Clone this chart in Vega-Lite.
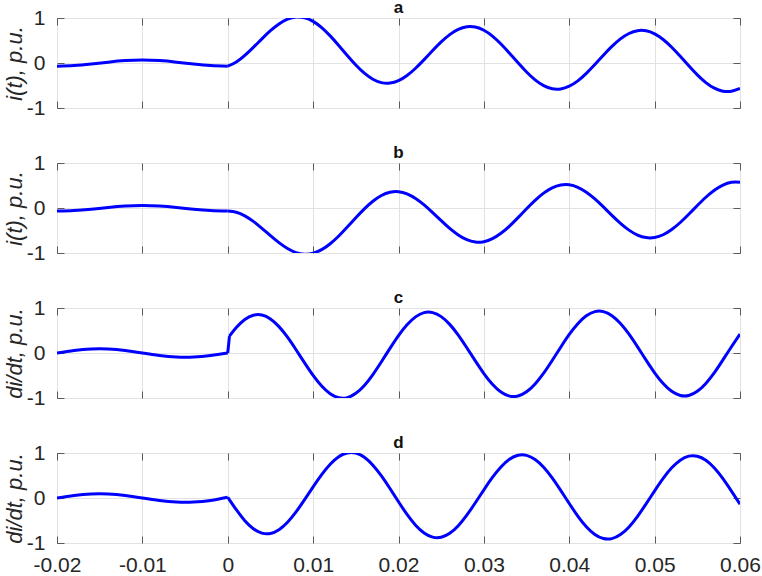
{
  "$schema": "https://vega.github.io/schema/vega-lite/v6.json",
  "padding": {"left": 2, "top": -2, "right": 0, "bottom": 0},
  "background": "white",
  "datasets": {
    "a": [
      {"t": -0.02, "v": -0.070, "s": "p"}, {"t": -0.018, "v": -0.057, "s": "p"}, {"t": -0.016, "v": -0.023, "s": "p"}, {"t": -0.014, "v": 0.019, "s": "p"}, {"t": -0.012, "v": 0.053, "s": "p"}, {"t": -0.01, "v": 0.066, "s": "p"}, {"t": -0.008, "v": 0.053, "s": "p"}, {"t": -0.006, "v": 0.019, "s": "p"}, {"t": -0.004, "v": -0.023, "s": "p"}, {"t": -0.002, "v": -0.057, "s": "p"}, {"t": 0, "v": -0.070, "s": "p"},
      {"t": 0, "v": -0.070, "s": "q"}, {"t": 0.001, "v": 0.023, "s": "q"}, {"t": 0.002, "v": 0.170, "s": "q"}, {"t": 0.003, "v": 0.348, "s": "q"}, {"t": 0.004, "v": 0.537, "s": "q"}, {"t": 0.005, "v": 0.717, "s": "q"}, {"t": 0.006, "v": 0.868, "s": "q"}, {"t": 0.007, "v": 0.973, "s": "q"}, {"t": 0.008, "v": 1.021, "s": "q"}, {"t": 0.009, "v": 1.005, "s": "q"},
      {"t": 0.010, "v": 0.925, "s": "q"}, {"t": 0.011, "v": 0.787, "s": "q"}, {"t": 0.012, "v": 0.603, "s": "q"}, {"t": 0.013, "v": 0.390, "s": "q"}, {"t": 0.014, "v": 0.167, "s": "q"}, {"t": 0.015, "v": -0.044, "s": "q"}, {"t": 0.016, "v": -0.226, "s": "q"}, {"t": 0.017, "v": -0.360, "s": "q"}, {"t": 0.018, "v": -0.436, "s": "q"}, {"t": 0.019, "v": -0.446, "s": "q"},
      {"t": 0.020, "v": -0.391, "s": "q"}, {"t": 0.021, "v": -0.277, "s": "q"}, {"t": 0.022, "v": -0.116, "s": "q"}, {"t": 0.023, "v": 0.075, "s": "q"}, {"t": 0.024, "v": 0.276, "s": "q"}, {"t": 0.025, "v": 0.468, "s": "q"}, {"t": 0.026, "v": 0.630, "s": "q"}, {"t": 0.027, "v": 0.746, "s": "q"}, {"t": 0.028, "v": 0.805, "s": "q"}, {"t": 0.029, "v": 0.798, "s": "q"},
      {"t": 0.030, "v": 0.727, "s": "q"}, {"t": 0.031, "v": 0.598, "s": "q"}, {"t": 0.032, "v": 0.422, "s": "q"}, {"t": 0.033, "v": 0.218, "s": "q"}, {"t": 0.034, "v": 0.003, "s": "q"}, {"t": 0.035, "v": -0.201, "s": "q"}, {"t": 0.036, "v": -0.376, "s": "q"}, {"t": 0.037, "v": -0.503, "s": "q"}, {"t": 0.038, "v": -0.572, "s": "q"}, {"t": 0.039, "v": -0.576, "s": "q"},
      {"t": 0.040, "v": -0.515, "s": "q"}, {"t": 0.041, "v": -0.396, "s": "q"}, {"t": 0.042, "v": -0.229, "s": "q"}, {"t": 0.043, "v": -0.034, "s": "q"}, {"t": 0.044, "v": 0.173, "s": "q"}, {"t": 0.045, "v": 0.369, "s": "q"}, {"t": 0.046, "v": 0.536, "s": "q"}, {"t": 0.047, "v": 0.656, "s": "q"}, {"t": 0.048, "v": 0.719, "s": "q"}, {"t": 0.049, "v": 0.716, "s": "q"},
      {"t": 0.050, "v": 0.649, "s": "q"}, {"t": 0.051, "v": 0.523, "s": "q"}, {"t": 0.052, "v": 0.351, "s": "q"}, {"t": 0.053, "v": 0.150, "s": "q"}, {"t": 0.054, "v": -0.062, "s": "q"}, {"t": 0.055, "v": -0.263, "s": "q"}, {"t": 0.056, "v": -0.435, "s": "q"}, {"t": 0.057, "v": -0.560, "s": "q"}, {"t": 0.058, "v": -0.626, "s": "q"}, {"t": 0.059, "v": -0.628, "s": "q"}, {"t": 0.060, "v": -0.565, "s": "q"}
    ],
    "b": [
      {"t": -0.02, "v": -0.067, "s": "p"}, {"t": -0.018, "v": -0.056, "s": "p"}, {"t": -0.016, "v": -0.026, "s": "p"}, {"t": -0.014, "v": 0.012, "s": "p"}, {"t": -0.012, "v": 0.042, "s": "p"}, {"t": -0.01, "v": 0.053, "s": "p"}, {"t": -0.008, "v": 0.042, "s": "p"}, {"t": -0.006, "v": 0.012, "s": "p"}, {"t": -0.004, "v": -0.026, "s": "p"}, {"t": -0.002, "v": -0.056, "s": "p"}, {"t": 0, "v": -0.067, "s": "p"},
      {"t": 0, "v": -0.067, "s": "q"}, {"t": 0.001, "v": -0.093, "s": "q"}, {"t": 0.002, "v": -0.174, "s": "q"}, {"t": 0.003, "v": -0.298, "s": "q"}, {"t": 0.004, "v": -0.451, "s": "q"}, {"t": 0.005, "v": -0.614, "s": "q"}, {"t": 0.006, "v": -0.770, "s": "q"}, {"t": 0.007, "v": -0.900, "s": "q"}, {"t": 0.008, "v": -0.990, "s": "q"}, {"t": 0.009, "v": -1.026, "s": "q"},
      {"t": 0.010, "v": -1.005, "s": "q"}, {"t": 0.011, "v": -0.926, "s": "q"}, {"t": 0.012, "v": -0.794, "s": "q"}, {"t": 0.013, "v": -0.622, "s": "q"}, {"t": 0.014, "v": -0.423, "s": "q"}, {"t": 0.015, "v": -0.217, "s": "q"}, {"t": 0.016, "v": -0.019, "s": "q"}, {"t": 0.017, "v": 0.150, "s": "q"}, {"t": 0.018, "v": 0.277, "s": "q"}, {"t": 0.019, "v": 0.349, "s": "q"},
      {"t": 0.020, "v": 0.362, "s": "q"}, {"t": 0.021, "v": 0.315, "s": "q"}, {"t": 0.022, "v": 0.213, "s": "q"}, {"t": 0.023, "v": 0.070, "s": "q"}, {"t": 0.024, "v": -0.102, "s": "q"}, {"t": 0.025, "v": -0.282, "s": "q"}, {"t": 0.026, "v": -0.455, "s": "q"}, {"t": 0.027, "v": -0.600, "s": "q"}, {"t": 0.028, "v": -0.705, "s": "q"}, {"t": 0.029, "v": -0.756, "s": "q"},
      {"t": 0.030, "v": -0.748, "s": "q"}, {"t": 0.031, "v": -0.682, "s": "q"}, {"t": 0.032, "v": -0.562, "s": "q"}, {"t": 0.033, "v": -0.402, "s": "q"}, {"t": 0.034, "v": -0.213, "s": "q"}, {"t": 0.035, "v": -0.017, "s": "q"}, {"t": 0.036, "v": 0.170, "s": "q"}, {"t": 0.037, "v": 0.330, "s": "q"}, {"t": 0.038, "v": 0.448, "s": "q"}, {"t": 0.039, "v": 0.511, "s": "q"},
      {"t": 0.040, "v": 0.516, "s": "q"}, {"t": 0.041, "v": 0.461, "s": "q"}, {"t": 0.042, "v": 0.352, "s": "q"}, {"t": 0.043, "v": 0.202, "s": "q"}, {"t": 0.044, "v": 0.024, "s": "q"}, {"t": 0.045, "v": -0.163, "s": "q"}, {"t": 0.046, "v": -0.341, "s": "q"}, {"t": 0.047, "v": -0.492, "s": "q"}, {"t": 0.048, "v": -0.602, "s": "q"}, {"t": 0.049, "v": -0.658, "s": "q"},
      {"t": 0.050, "v": -0.655, "s": "q"}, {"t": 0.051, "v": -0.594, "s": "q"}, {"t": 0.052, "v": -0.478, "s": "q"}, {"t": 0.053, "v": -0.322, "s": "q"}, {"t": 0.054, "v": -0.138, "s": "q"}, {"t": 0.055, "v": 0.054, "s": "q"}, {"t": 0.056, "v": 0.239, "s": "q"}, {"t": 0.057, "v": 0.394, "s": "q"}, {"t": 0.058, "v": 0.509, "s": "q"}, {"t": 0.059, "v": 0.570, "s": "q"}, {"t": 0.060, "v": 0.572, "s": "q"}
    ],
    "c": [
      {"t": -0.02, "v": 0.0, "s": "p"}, {"t": -0.018, "v": 0.056, "s": "p"}, {"t": -0.016, "v": 0.090, "s": "p"}, {"t": -0.014, "v": 0.090, "s": "p"}, {"t": -0.012, "v": 0.056, "s": "p"}, {"t": -0.01, "v": 0.0, "s": "p"}, {"t": -0.008, "v": -0.056, "s": "p"}, {"t": -0.006, "v": -0.090, "s": "p"}, {"t": -0.004, "v": -0.090, "s": "p"}, {"t": -0.002, "v": -0.056, "s": "p"}, {"t": 0, "v": 0.0, "s": "p"},
      {"t": 0, "v": 0.0, "s": "j"}, {"t": 0.0002, "v": 0.374, "s": "j"},
      {"t": 0.0002, "v": 0.374, "s": "q"}, {"t": 0.001, "v": 0.565, "s": "q"}, {"t": 0.002, "v": 0.744, "s": "q"}, {"t": 0.003, "v": 0.840, "s": "q"}, {"t": 0.004, "v": 0.844, "s": "q"}, {"t": 0.005, "v": 0.756, "s": "q"}, {"t": 0.006, "v": 0.586, "s": "q"}, {"t": 0.007, "v": 0.351, "s": "q"}, {"t": 0.008, "v": 0.072, "s": "q"}, {"t": 0.009, "v": -0.218, "s": "q"},
      {"t": 0.010, "v": -0.497, "s": "q"}, {"t": 0.011, "v": -0.733, "s": "q"}, {"t": 0.012, "v": -0.904, "s": "q"}, {"t": 0.013, "v": -0.993, "s": "q"}, {"t": 0.014, "v": -0.991, "s": "q"}, {"t": 0.015, "v": -0.896, "s": "q"}, {"t": 0.016, "v": -0.720, "s": "q"}, {"t": 0.017, "v": -0.478, "s": "q"}, {"t": 0.018, "v": -0.194, "s": "q"}, {"t": 0.019, "v": 0.102, "s": "q"},
      {"t": 0.020, "v": 0.386, "s": "q"}, {"t": 0.021, "v": 0.627, "s": "q"}, {"t": 0.022, "v": 0.803, "s": "q"}, {"t": 0.023, "v": 0.897, "s": "q"}, {"t": 0.024, "v": 0.898, "s": "q"}, {"t": 0.025, "v": 0.808, "s": "q"}, {"t": 0.026, "v": 0.636, "s": "q"}, {"t": 0.027, "v": 0.398, "s": "q"}, {"t": 0.028, "v": 0.117, "s": "q"}, {"t": 0.029, "v": -0.175, "s": "q"},
      {"t": 0.030, "v": -0.456, "s": "q"}, {"t": 0.031, "v": -0.694, "s": "q"}, {"t": 0.032, "v": -0.867, "s": "q"}, {"t": 0.033, "v": -0.958, "s": "q"}, {"t": 0.034, "v": -0.956, "s": "q"}, {"t": 0.035, "v": -0.863, "s": "q"}, {"t": 0.036, "v": -0.688, "s": "q"}, {"t": 0.037, "v": -0.449, "s": "q"}, {"t": 0.038, "v": -0.166, "s": "q"}, {"t": 0.039, "v": 0.129, "s": "q"},
      {"t": 0.040, "v": 0.412, "s": "q"}, {"t": 0.041, "v": 0.652, "s": "q"}, {"t": 0.042, "v": 0.827, "s": "q"}, {"t": 0.043, "v": 0.919, "s": "q"}, {"t": 0.044, "v": 0.920, "s": "q"}, {"t": 0.045, "v": 0.829, "s": "q"}, {"t": 0.046, "v": 0.655, "s": "q"}, {"t": 0.047, "v": 0.417, "s": "q"}, {"t": 0.048, "v": 0.135, "s": "q"}, {"t": 0.049, "v": -0.158, "s": "q"},
      {"t": 0.050, "v": -0.440, "s": "q"}, {"t": 0.051, "v": -0.678, "s": "q"}, {"t": 0.052, "v": -0.852, "s": "q"}, {"t": 0.053, "v": -0.943, "s": "q"}, {"t": 0.054, "v": -0.943, "s": "q"}, {"t": 0.055, "v": -0.851, "s": "q"}, {"t": 0.056, "v": -0.676, "s": "q"}, {"t": 0.057, "v": -0.437, "s": "q"}, {"t": 0.058, "v": -0.154, "s": "q"}, {"t": 0.059, "v": 0.140, "s": "q"}, {"t": 0.060, "v": 0.422, "s": "q"}
    ],
    "d": [
      {"t": -0.02, "v": 0.0, "s": "p"}, {"t": -0.018, "v": 0.056, "s": "p"}, {"t": -0.016, "v": 0.090, "s": "p"}, {"t": -0.014, "v": 0.090, "s": "p"}, {"t": -0.012, "v": 0.056, "s": "p"}, {"t": -0.01, "v": 0.0, "s": "p"}, {"t": -0.008, "v": -0.056, "s": "p"}, {"t": -0.006, "v": -0.090, "s": "p"}, {"t": -0.004, "v": -0.090, "s": "p"}, {"t": -0.002, "v": -0.056, "s": "p"}, {"t": 0, "v": 0.015, "s": "p"},
      {"t": 0, "v": 0.015, "s": "q"}, {"t": 0.001, "v": -0.261, "s": "q"}, {"t": 0.002, "v": -0.505, "s": "q"}, {"t": 0.003, "v": -0.683, "s": "q"}, {"t": 0.004, "v": -0.780, "s": "q"}, {"t": 0.005, "v": -0.787, "s": "q"}, {"t": 0.006, "v": -0.704, "s": "q"}, {"t": 0.007, "v": -0.539, "s": "q"}, {"t": 0.008, "v": -0.309, "s": "q"}, {"t": 0.009, "v": -0.038, "s": "q"},
      {"t": 0.010, "v": 0.247, "s": "q"}, {"t": 0.011, "v": 0.519, "s": "q"}, {"t": 0.012, "v": 0.750, "s": "q"}, {"t": 0.013, "v": 0.917, "s": "q"}, {"t": 0.014, "v": 1.002, "s": "q"}, {"t": 0.015, "v": 0.998, "s": "q"}, {"t": 0.016, "v": 0.904, "s": "q"}, {"t": 0.017, "v": 0.729, "s": "q"}, {"t": 0.018, "v": 0.490, "s": "q"}, {"t": 0.019, "v": 0.210, "s": "q"},
      {"t": 0.020, "v": -0.084, "s": "q"}, {"t": 0.021, "v": -0.364, "s": "q"}, {"t": 0.022, "v": -0.603, "s": "q"}, {"t": 0.023, "v": -0.776, "s": "q"}, {"t": 0.024, "v": -0.869, "s": "q"}, {"t": 0.025, "v": -0.872, "s": "q"}, {"t": 0.026, "v": -0.784, "s": "q"}, {"t": 0.027, "v": -0.615, "s": "q"}, {"t": 0.028, "v": -0.381, "s": "q"}, {"t": 0.029, "v": -0.106, "s": "q"},
      {"t": 0.030, "v": 0.182, "s": "q"}, {"t": 0.031, "v": 0.457, "s": "q"}, {"t": 0.032, "v": 0.691, "s": "q"}, {"t": 0.033, "v": 0.861, "s": "q"}, {"t": 0.034, "v": 0.949, "s": "q"}, {"t": 0.035, "v": 0.948, "s": "q"}, {"t": 0.036, "v": 0.856, "s": "q"}, {"t": 0.037, "v": 0.684, "s": "q"}, {"t": 0.038, "v": 0.447, "s": "q"}, {"t": 0.039, "v": 0.168, "s": "q"},
      {"t": 0.040, "v": -0.123, "s": "q"}, {"t": 0.041, "v": -0.401, "s": "q"}, {"t": 0.042, "v": -0.638, "s": "q"}, {"t": 0.043, "v": -0.810, "s": "q"}, {"t": 0.044, "v": -0.901, "s": "q"}, {"t": 0.045, "v": -0.902, "s": "q"}, {"t": 0.046, "v": -0.813, "s": "q"}, {"t": 0.047, "v": -0.643, "s": "q"}, {"t": 0.048, "v": -0.407, "s": "q"}, {"t": 0.049, "v": -0.131, "s": "q"},
      {"t": 0.050, "v": 0.158, "s": "q"}, {"t": 0.051, "v": 0.435, "s": "q"}, {"t": 0.052, "v": 0.670, "s": "q"}, {"t": 0.053, "v": 0.840, "s": "q"}, {"t": 0.054, "v": 0.930, "s": "q"}, {"t": 0.055, "v": 0.929, "s": "q"}, {"t": 0.056, "v": 0.839, "s": "q"}, {"t": 0.057, "v": 0.667, "s": "q"}, {"t": 0.058, "v": 0.430, "s": "q"}, {"t": 0.059, "v": 0.153, "s": "q"}, {"t": 0.060, "v": -0.137, "s": "q"}
    ]
  },
  "vconcat": [
    {
      "title": "a", "width": 683, "height": 90, "data": {"name": "a"},
      "layer": [
        {"mark": {"type": "line", "color": "#0000ff", "strokeWidth": 3, "interpolate": "natural", "clip": true},
         "encoding": {
           "x": {"field": "t", "type": "quantitative", "scale": {"domain": [-0.02, 0.06], "nice": false, "zero": false}, "axis": {"orient": "bottom", "values": [-0.02, -0.01, 0, 0.01, 0.02, 0.03, 0.04, 0.05, 0.06], "grid": true, "labels": false, "title": null}},
           "y": {"field": "v", "type": "quantitative", "scale": {"domain": [-1, 1], "nice": false, "zero": false}, "axis": {"orient": "left", "values": [-1, 0, 1], "grid": true, "title": "i(t), p.u."}},
           "detail": {"field": "s"}}},
        {"mark": {"type": "line", "opacity": 0},
         "encoding": {
           "x": {"field": "t", "type": "quantitative", "axis": {"orient": "top", "values": [-0.02, -0.01, 0, 0.01, 0.02, 0.03, 0.04, 0.05, 0.06], "grid": false, "labels": false, "title": null}},
           "y": {"field": "v", "type": "quantitative", "axis": {"orient": "right", "values": [-1, 0, 1], "grid": false, "labels": false, "title": null}},
           "detail": {"field": "s"}}}
      ],
      "resolve": {"axis": {"x": "independent", "y": "independent"}}
    },
    {
      "title": "b", "width": 683, "height": 90, "data": {"name": "b"},
      "layer": [
        {"mark": {"type": "line", "color": "#0000ff", "strokeWidth": 3, "interpolate": "natural", "clip": true},
         "encoding": {
           "x": {"field": "t", "type": "quantitative", "scale": {"domain": [-0.02, 0.06], "nice": false, "zero": false}, "axis": {"orient": "bottom", "values": [-0.02, -0.01, 0, 0.01, 0.02, 0.03, 0.04, 0.05, 0.06], "grid": true, "labels": false, "title": null}},
           "y": {"field": "v", "type": "quantitative", "scale": {"domain": [-1, 1], "nice": false, "zero": false}, "axis": {"orient": "left", "values": [-1, 0, 1], "grid": true, "title": "i(t), p.u."}},
           "detail": {"field": "s"}}},
        {"mark": {"type": "line", "opacity": 0},
         "encoding": {
           "x": {"field": "t", "type": "quantitative", "axis": {"orient": "top", "values": [-0.02, -0.01, 0, 0.01, 0.02, 0.03, 0.04, 0.05, 0.06], "grid": false, "labels": false, "title": null}},
           "y": {"field": "v", "type": "quantitative", "axis": {"orient": "right", "values": [-1, 0, 1], "grid": false, "labels": false, "title": null}},
           "detail": {"field": "s"}}}
      ],
      "resolve": {"axis": {"x": "independent", "y": "independent"}}
    },
    {
      "title": "c", "width": 683, "height": 90, "data": {"name": "c"},
      "layer": [
        {"mark": {"type": "line", "color": "#0000ff", "strokeWidth": 3, "interpolate": "natural", "clip": true},
         "encoding": {
           "x": {"field": "t", "type": "quantitative", "scale": {"domain": [-0.02, 0.06], "nice": false, "zero": false}, "axis": {"orient": "bottom", "values": [-0.02, -0.01, 0, 0.01, 0.02, 0.03, 0.04, 0.05, 0.06], "grid": true, "labels": false, "title": null}},
           "y": {"field": "v", "type": "quantitative", "scale": {"domain": [-1, 1], "nice": false, "zero": false}, "axis": {"orient": "left", "values": [-1, 0, 1], "grid": true, "title": "di/dt, p.u."}},
           "detail": {"field": "s"}}},
        {"mark": {"type": "line", "opacity": 0},
         "encoding": {
           "x": {"field": "t", "type": "quantitative", "axis": {"orient": "top", "values": [-0.02, -0.01, 0, 0.01, 0.02, 0.03, 0.04, 0.05, 0.06], "grid": false, "labels": false, "title": null}},
           "y": {"field": "v", "type": "quantitative", "axis": {"orient": "right", "values": [-1, 0, 1], "grid": false, "labels": false, "title": null}},
           "detail": {"field": "s"}}}
      ],
      "resolve": {"axis": {"x": "independent", "y": "independent"}}
    },
    {
      "title": "d", "width": 683, "height": 90, "data": {"name": "d"},
      "layer": [
        {"mark": {"type": "line", "color": "#0000ff", "strokeWidth": 3, "interpolate": "natural", "clip": true},
         "encoding": {
           "x": {"field": "t", "type": "quantitative", "scale": {"domain": [-0.02, 0.06], "nice": false, "zero": false}, "axis": {"orient": "bottom", "values": [-0.02, -0.01, 0, 0.01, 0.02, 0.03, 0.04, 0.05, 0.06], "grid": true, "labels": true, "title": null, "labelExpr": "datum.value < 0 ? '-' + format(-datum.value, '.2f') : (datum.value == 0 ? '0' : format(datum.value, '.2f'))"}},
           "y": {"field": "v", "type": "quantitative", "scale": {"domain": [-1, 1], "nice": false, "zero": false}, "axis": {"orient": "left", "values": [-1, 0, 1], "grid": true, "title": "di/dt, p.u."}},
           "detail": {"field": "s"}}},
        {"mark": {"type": "line", "opacity": 0},
         "encoding": {
           "x": {"field": "t", "type": "quantitative", "axis": {"orient": "top", "values": [-0.02, -0.01, 0, 0.01, 0.02, 0.03, 0.04, 0.05, 0.06], "grid": false, "labels": false, "title": null}},
           "y": {"field": "v", "type": "quantitative", "axis": {"orient": "right", "values": [-1, 0, 1], "grid": false, "labels": false, "title": null}},
           "detail": {"field": "s"}}}
      ],
      "resolve": {"axis": {"x": "independent", "y": "independent"}}
    }
  ],
  "spacing": 55,
  "bounds": "flush",
  "config": {
    "view": {"stroke": "#5a5a5a", "strokeWidth": 1},
    "font": "Liberation Sans",
    "title": {"fontSize": 17, "fontWeight": "bold", "font": "Liberation Sans", "color": "#111111", "offset": -10, "anchor": "middle", "frame": "group"},
    "axis": {
      "domain": false,
      "tickColor": "#5a5a5a",
      "tickSize": -7,
      "tickWidth": 1,
      "gridColor": "#e2e2e2",
      "gridWidth": 1,
      "labelFont": "Liberation Sans",
      "labelFontSize": 21,
      "labelColor": "#262626",
      "labelFlush": false,
      "labelOverlap": false,
      "labelExpr": "datum.value < 0 ? '-' + format(-datum.value, 'd') : format(datum.value, 'd')",
      "titleFont": "Liberation Sans",
      "titleFontSize": 22,
      "titleFontStyle": "italic",
      "titleFontWeight": "normal",
      "titleColor": "#262626",
      "titlePadding": 0
    },
    "axisX": {"labelPadding": 18},
    "axisY": {"labelPadding": 19}
  }
}
